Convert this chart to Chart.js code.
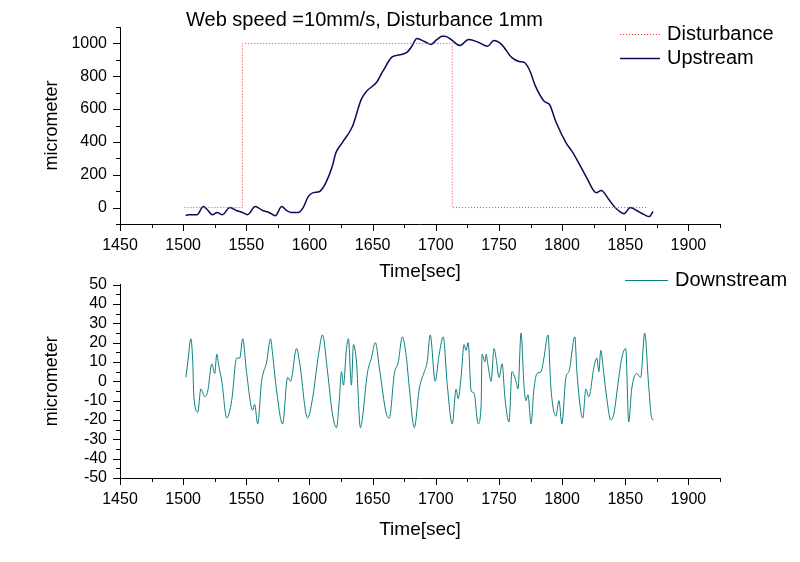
<!DOCTYPE html>
<html><head><meta charset="utf-8">
<script src="https://cdn.jsdelivr.net/npm/chart.js@4/dist/chart.umd.min.js"></script>
<style>
html,body{margin:0;padding:0;background:#fff;width:800px;height:562px;overflow:hidden;position:relative}
canvas{position:absolute;left:0}
#c1{top:0}
#c2{top:262px}
</style></head><body>
<canvas id="c1" width="800" height="300"></canvas>
<canvas id="c2" width="800" height="300"></canvas>
<script>
// ---------- DATA ----------
const titleText = "Web speed =10mm/s, Disturbance 1mm";
const xTitle = "Time[sec]";
const yTitle = "micrometer";
const legendTop = ["Disturbance", "Upstream"];
const legendBottom = ["Downstream"];

const distTime = [1501, 1547, 1547, 1713, 1713, 1867];
const distVal  = [0, 0, 1000, 1000, 0, 0];

const upTime = [1502,1504,1511,1516,1519,1523,1527,1531,1537,1542,1547,1551,1557,1563,1568,1573,1578,1582,1586,1591,1595,1599,1603,1608,1613,1618,1621,1626,1634,1641,1645,1653,1658,1665,1669,1677,1681,1685,1691,1696,1701,1705,1707,1711,1719,1726,1734,1741,1746,1752,1760,1766,1770,1774,1779,1786,1790,1795,1803,1808,1813,1819,1827,1831,1837,1842,1849,1854,1859,1865,1869,1872];
const upVal  = [-49,-43,-43,6,-12,-43,-30,-43,0,-18,-30,-43,6,-18,-30,-49,6,-18,-30,-30,0,67,91,98,152,250,335,396,494,659,707,762,829,915,927,945,982,1030,1012,994,1024,1043,1043,1030,988,1024,1006,982,1018,994,915,890,884,841,738,646,628,524,396,341,274,189,91,104,49,0,-37,0,-18,-43,-55,-24];

const downTime = [1502.1,1503.7,1506.1,1507.6,1508.4,1511.6,1514.0,1517.1,1519.5,1522.7,1525.0,1526.6,1528.2,1530.6,1534.5,1538.4,1542.4,1544.8,1547.1,1550.3,1555.0,1556.6,1559.0,1562.1,1566.1,1569.2,1570.8,1574.0,1578.7,1582.7,1585.0,1589.8,1592.1,1598.5,1602.4,1607.2,1610.3,1614.3,1618.2,1621.4,1623.7,1625.3,1626.9,1629.3,1630.8,1633.2,1634.8,1637.2,1640.3,1641.9,1645.8,1649.0,1652.2,1655.3,1660.9,1663.2,1667.2,1670.3,1673.5,1676.6,1679.0,1683.0,1686.9,1690.9,1693.2,1695.6,1699.5,1702.7,1705.9,1709.1,1713.0,1716.1,1717.7,1720.0,1722.4,1724.0,1725.6,1728.0,1730.3,1733.5,1735.9,1736.6,1739.0,1739.8,1741.4,1743.8,1746.1,1747.7,1750.1,1752.5,1754.8,1758.0,1760.3,1763.5,1765.1,1767.5,1769.8,1771.4,1773.0,1775.4,1777.7,1780.1,1783.3,1785.6,1788.8,1791.2,1795.1,1797.5,1799.8,1803.0,1805.4,1810.1,1811.7,1816.4,1818.8,1821.2,1825.1,1827.5,1829.1,1830.6,1833.0,1835.4,1838.5,1840.9,1844.9,1847.2,1850.4,1852.7,1855.1,1859.1,1862.2,1865.4,1868.5,1870.9,1872.5];
const downVal  = [2,10,22,10,-7,-16,-4,-8,-5,9,4,14,8,0,-19,-10,12,12,22,4,-15,-12,-22,0,10,22,14,-5,-22,2,0,17,10,-19,-9,14,24,5,-17,-24,-9,5,-2,17,22,-2,19,10,-24,-19,4,12,20,7,-17,-19,4,10,23,13,-3,-24,-4,5,10,24,0,14,23,-2,-22,-4,-9,2,19,16,20,-5,-6,-22,-12,14,10,14,8,0,17,12,2,9,-9,-21,5,0,-4,25,-2,-10,-7,-22,-4,4,5,12,24,-4,-18,-10,-22,2,5,23,5,-19,-4,-8,7,12,5,16,4,-9,-20,-17,2,12,17,-21,-4,4,2,25,-2,-19,-20];

const xTicksMajor = 50;
// ---------- END DATA ----------

const FONT = "'Liberation Sans', Arial, sans-serif";
Chart.defaults.font.family = FONT;
Chart.defaults.color = '#000';

const pts = (xs, ys) => xs.map((x, i) => ({x, y: ys[i]}));

const axisPlugin = {
  id: 'axisDeco',
  afterDraw(chart, args, o) {
    const ctx = chart.ctx, xs = chart.scales.x, ys = chart.scales.y;
    ctx.save();
    ctx.strokeStyle = '#000'; ctx.lineWidth = 1;
    ctx.beginPath();
    xs.ticks.forEach(t => {
      const px = Math.round(xs.getPixelForValue(t.value)) + 0.5;
      const L = (t.value % o.xMajor === 0) ? 7 : 4;
      ctx.moveTo(px, xs.top); ctx.lineTo(px, xs.top + L);
    });
    ys.ticks.forEach(t => {
      const py = Math.round(ys.getPixelForValue(t.value)) + 0.5;
      const L = (t.value % o.yMajor === 0) ? 7 : 4;
      ctx.moveTo(ys.right, py); ctx.lineTo(ys.right - L, py);
    });
    ctx.stroke();
    ctx.fillStyle = '#000';
    ctx.font = '19px ' + FONT;
    ctx.textAlign = 'center'; ctx.textBaseline = 'middle';
    ctx.fillText(xTitle, o.xTitleX, o.xTitleY);
    ctx.save();
    ctx.translate(o.yTitleX, (chart.chartArea.top + chart.chartArea.bottom) / 2);
    ctx.rotate(-Math.PI / 2);
    ctx.font = '18px ' + FONT;
    ctx.fillText(yTitle, 0, 0);
    ctx.restore();
    if (o.title) {
      ctx.font = '20px ' + FONT;
      ctx.textAlign = 'left';
      ctx.fillText(o.title, o.titleX, o.titleY);
    }
    ctx.font = '20px ' + FONT;
    ctx.textAlign = 'left';
    o.legend.forEach((lg, i) => {
      const ds = chart.data.datasets[i];
      const y = o.legY + i * o.legStep;
      ctx.save();
      ctx.strokeStyle = ds.borderColor; ctx.lineWidth = ds.borderWidth;
      ctx.setLineDash(ds.borderDash || []);
      ctx.beginPath(); ctx.moveTo(o.legX0, y + 0.5); ctx.lineTo(o.legX1, y + 0.5); ctx.stroke();
      ctx.restore();
      ctx.fillText(lg, o.legTextX, y);
    });
    ctx.restore();
  }
};

function makeChart(id, datasets, ycfg, layoutTop, xHeight, deco) {
  return new Chart(document.getElementById(id), {
    type: 'scatter',
    data: { datasets },
    options: {
      responsive: false, animation: false, events: [],
      layout: { padding: { top: layoutTop, right: 80, left: 0, bottom: 0 } },
      plugins: { legend: { display: false }, tooltip: { enabled: false }, axisDeco: deco },
      scales: {
        x: {
          type: 'linear', min: 1450, max: 1925,
          grid: { display: false, drawTicks: false },
          border: { display: true, color: '#000', width: 1 },
          ticks: { stepSize: 25, autoSkip: false, maxRotation: 0, padding: 12,
                   font: { size: 16 },
                   callback: v => (v % xTicksMajor === 0 && v <= 1900) ? String(v) : '' },
          afterFit: s => { s.height = xHeight; }
        },
        y: {
          type: 'linear', min: ycfg.min, max: ycfg.max,
          grid: { display: false, drawTicks: false },
          border: { display: true, color: '#000', width: 1 },
          ticks: { stepSize: ycfg.step, autoSkip: false, padding: 13, font: { size: 16 },
                   callback: v => (v % ycfg.major === 0 && v >= ycfg.lmin && v <= ycfg.lmax) ? String(v) : '' },
          afterFit: s => { s.width = 120; }
        }
      }
    },
    plugins: [axisPlugin]
  });
}

makeChart('c1', [
  { label: legendTop[0], data: pts(distTime, distVal), showLine: true, pointRadius: 0,
    borderColor: '#ff3030', borderWidth: 1, borderDash: [1, 2], tension: 0 },
  { label: legendTop[1], data: pts(upTime, upVal), showLine: true, pointRadius: 0,
    borderColor: '#0a0a5a', borderWidth: 1.5, cubicInterpolationMode: 'monotone' }
], { min: -100, max: 1100, step: 100, major: 200, lmin: 0, lmax: 1000 }, 27, 76,
{ xMajor: 50, yMajor: 200, xTitleX: 420, xTitleY: 272, yTitleX: 52,
  title: titleText, titleX: 186, titleY: 20,
  legend: legendTop, legX0: 620, legX1: 660, legTextX: 667, legY: 34, legStep: 24 });

makeChart('c2', [
  { label: legendBottom[0], data: pts(downTime, downVal), showLine: true, pointRadius: 0,
    borderColor: '#0b7f7f', borderWidth: 1, cubicInterpolationMode: 'monotone' }
], { min: -50, max: 50, step: 5, major: 10, lmin: -50, lmax: 50 }, 20, 84,
{ xMajor: 50, yMajor: 10, xTitleX: 420, xTitleY: 530 - 262, yTitleX: 52,
  title: null,
  legend: legendBottom, legX0: 625, legX1: 668, legTextX: 675, legY: 280 - 262, legStep: 24 });
</script>
</body></html>
